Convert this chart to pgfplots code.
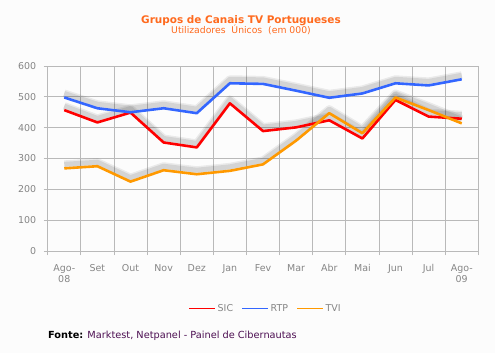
\documentclass[border=0pt]{standalone}
\usepackage{pgfplots}
\pgfplotsset{compat=1.18}
\usepackage{pgfplotstable}
\usepackage{fontspec}
\setmainfont{DejaVu Sans}
\definecolor{bg}{HTML}{FCFCFC}
\definecolor{titleor}{HTML}{FF6A1E}
\definecolor{tickgray}{HTML}{858585}
\definecolor{gridgray}{HTML}{B9B9B9}
\definecolor{sicred}{HTML}{FF0000}
\definecolor{rtpblue}{HTML}{3366FF}
\definecolor{tviorange}{HTML}{FF9900}
\definecolor{fontepurple}{HTML}{4D0F52}

\pgfplotstableread{
x sic rtp tvi
0 457 498 268
1 417 463 275
2 449 450 225
3 352 463 262
4 336 447 249
5 479 544 260
6 389 542 281
7 401 520 358
8 424 497 447
9 365 511 382
10 490 544 498
11 436 537 457
12 429 557 414
}\datatab

\begin{document}
\begin{tikzpicture}[x=1bp,y=1bp]
\fill[bg] (0,0) rectangle (495,353);
\useasboundingbox (0,0) rectangle (495,353);
\begin{axis}[
  at={(47.7bp,102bp)}, anchor=south west,
  scale only axis, width=430.6bp, height=185bp,
  xmin=-0.5, xmax=12.5, ymin=0, ymax=600,
  xtick={0,...,12},
  xticklabels={{Ago-\\08},Set,Out,Nov,Dez,Jan,Fev,Mar,Abr,Mai,Jun,Jul,{Ago-\\09}},
  minor xtick={-0.5,0.5,...,12.5},
  ytick={0,100,...,600},
  xminorgrids=true, ymajorgrids=true, xmajorgrids=false,
  grid style={gridgray, line width=0.8bp},
  minor grid style={gridgray, line width=0.8bp},
  axis line style={gridgray, line width=0.8bp},
  tick style={gridgray, line width=0.8bp},
  tick align=outside,
  xtick pos=bottom, ytick pos=left,
  major x tick style={draw=none},
  minor tick length=4bp, major tick length=4bp,
  ticklabel style={font=\fontsize{9.5}{11.5}\selectfont, text=tickgray},
  xticklabel style={align=center, yshift=-6bp},
  yticklabel style={xshift=-4bp},
  /pgf/number format/assume math mode=true,
  clip=false,
  every axis plot/.append style={line join=round},
]
% shadows
\foreach \s in {sic,rtp,tvi}{
  \addplot[forget plot, black, opacity=0.07, line width=8bp, yshift=4bp] table[x=x, y=\s] {\datatab};
  \addplot[forget plot, black, opacity=0.09, line width=5bp, yshift=4bp] table[x=x, y=\s] {\datatab};
}
\addplot[forget plot, sicred, line width=2.6bp] table[x=x, y=sic] {\datatab};
\addplot[forget plot, rtpblue, line width=2.6bp] table[x=x, y=rtp] {\datatab};
\addplot[forget plot, tviorange, line width=2.6bp] table[x=x, y=tvi] {\datatab};
\end{axis}
% legend
\draw[sicred, line width=1bp] (189,45) -- (215,45);
\node[anchor=west, inner sep=0pt, text=tickgray, font=\fontsize{9.5}{11}\selectfont] at (217.5,45) {SIC};
\draw[rtpblue, line width=1bp] (242,45) -- (268,45);
\node[anchor=west, inner sep=0pt, text=tickgray, font=\fontsize{9.5}{11}\selectfont] at (270.5,45) {RTP};
\draw[tviorange, line width=1bp] (297,45) -- (323,45);
\node[anchor=west, inner sep=0pt, text=tickgray, font=\fontsize{9.5}{11}\selectfont] at (325.5,45) {TVI};
% titles
\node[anchor=base, text=titleor, font=\fontsize{10.5}{12}\selectfont\bfseries] at (241,330) {Grupos de Canais TV Portugueses};
\node[anchor=base, text=titleor, font=\fontsize{9.3}{10}\selectfont] at (241,319.5) {Utilizadores\ \ Únicos\ \ (em 000)};
\node[anchor=base west, inner sep=0pt, font=\fontsize{9.8}{11}\selectfont] at (48,15) {\textbf{Fonte:} \textcolor{fontepurple}{Marktest, Netpanel - Painel de Cibernautas}};
\end{tikzpicture}
\end{document}
